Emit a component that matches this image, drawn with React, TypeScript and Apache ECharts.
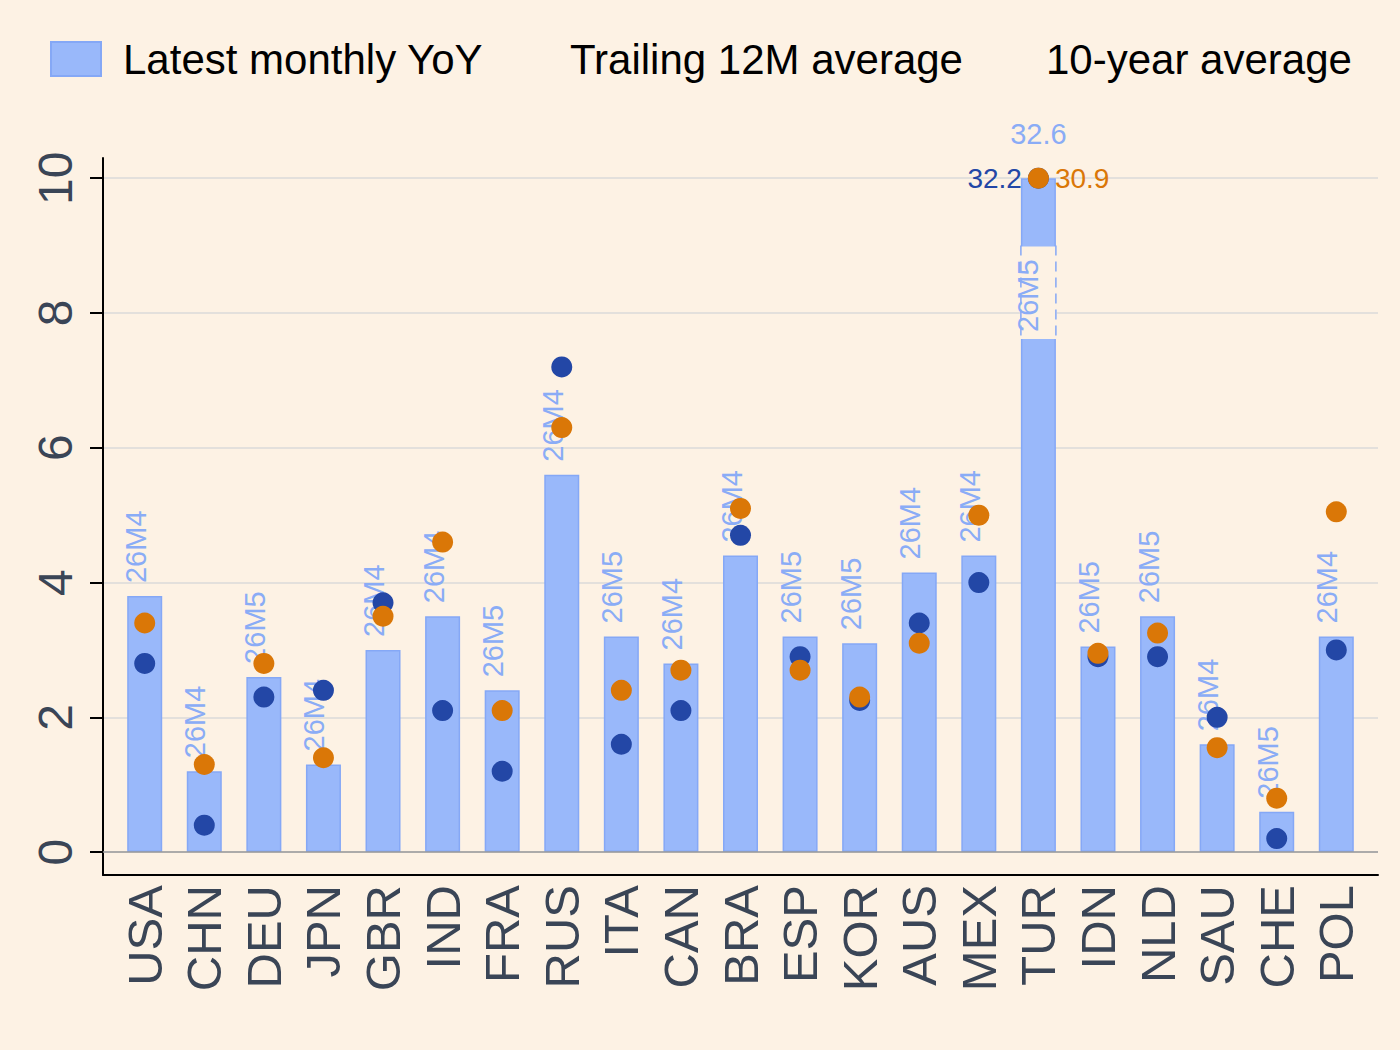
import React, { useEffect, useRef } from "react";
import * as echarts from "echarts";

const countries = ["USA", "CHN", "DEU", "JPN", "GBR", "IND", "FRA", "RUS", "ITA", "CAN", "BRA", "ESP", "KOR", "AUS", "MEX", "TUR", "IDN", "NLD", "SAU", "CHE", "POL"];
const latestMonth = ["26M4", "26M4", "26M5", "26M4", "26M4", "26M4", "26M5", "26M4", "26M5", "26M4", "26M4", "26M5", "26M5", "26M4", "26M4", "26M5", "26M5", "26M5", "26M4", "26M5", "26M4"];
const latestYoY = [3.8, 1.2, 2.6, 1.3, 3.0, 3.5, 2.4, 5.6, 3.2, 2.8, 4.4, 3.2, 3.1, 4.15, 4.4, 32.6, 3.05, 3.5, 1.6, 0.6, 3.2];
const trailing12M = [2.8, 0.4, 2.3, 2.4, 3.7, 2.1, 1.2, 7.2, 1.6, 2.1, 4.7, 2.9, 2.25, 3.4, 4.0, 32.2, 2.9, 2.9, 2.0, 0.2, 3.0];
const tenYearAvg = [3.4, 1.3, 2.8, 1.4, 3.5, 4.6, 2.1, 6.3, 2.4, 2.7, 5.1, 2.7, 2.3, 3.1, 5.0, 30.9, 2.95, 3.25, 1.55, 0.8, 5.05];
const yTicks = [0, 2, 4, 6, 8, 10];
const axisCap = 10;
const breakLow = 7.6;
const breakHigh = 9.0;

const BG = "#fdf2e4";
const BAR_FILL = "#99b8fa";
const BAR_BORDER = "#85a8f6";
const MONTH_COLOR = "#8aacf6";
const NAVY = "#2347a6";
const ORANGE = "#da7707";
const AXIS_TEXT = "#3a4556";
const FONT = "'Liberation Sans', Arial, sans-serif";
const BAR_WIDTH = 35;

export default function App() {
  const ref = useRef<HTMLDivElement>(null);
  useEffect(() => {
    if (!ref.current) return;
    document.body.style.margin = "0";
    document.body.style.background = BG;
    const chart = echarts.init(ref.current, null, { renderer: "svg" });

    const barData = latestYoY.map((v, i) =>
      v > axisCap
        ? {
            value: [i, axisCap],
            label: {
              show: true,
              formatter: String(v),
              position: "top",
              rotate: 0,
              distance: 30,
              align: "center",
              verticalAlign: "bottom",
              offset: [0, 0],
            },
          }
        : { value: [i, v] }
    );

    const breakData = latestYoY
      .map((v, i) => (v > axisCap ? [i, breakLow, breakHigh] : null))
      .filter((d) => d !== null);

    const dotData = (arr: number[], color: string, pos: string) =>
      arr.map((v, i) =>
        v > axisCap
          ? {
              value: [i, axisCap],
              label: {
                show: true,
                formatter: String(v),
                position: pos,
                distance: 6,
                color,
                fontSize: 28,
                fontFamily: FONT,
              },
            }
          : { value: [i, v] }
      );

    const legendBase = {
      top: 38,
      padding: 0,
      itemWidth: 50,
      itemHeight: 34,
      selectedMode: false,
      textStyle: { fontSize: 42, color: "#000", fontFamily: FONT, padding: [0, 0, 0, 17] },
    };

    chart.setOption({
      animation: false,
      backgroundColor: BG,
      textStyle: { fontFamily: FONT },
      legend: [
        { ...legendBase, left: 50, data: [{ name: "Latest monthly YoY", icon: "rect" }] },
        { ...legendBase, left: 498, data: [{ name: "Trailing 12M average", icon: "none" }] },
        { ...legendBase, left: 974, data: [{ name: "10-year average", icon: "none" }] },
      ],
      grid: { left: 103, right: 22, top: 158, bottom: 175, containLabel: false },
      xAxis: {
        type: "value",
        min: -0.7,
        max: 20.7,
        axisLine: { show: true, onZero: false, lineStyle: { color: "#000", width: 2 } },
        axisTick: { show: false },
        splitLine: { show: false },
        axisLabel: {
          customValues: countries.map((_, i) => i),
          formatter: (v: number) => countries[Math.round(v)] ?? "",
          rotate: 90,
          margin: 10,
          fontSize: 49,
          color: AXIS_TEXT,
          fontFamily: FONT,
        },
      },
      yAxis: {
        type: "value",
        min: -0.34,
        max: 10.3,
        axisLine: { show: true, onZero: false, lineStyle: { color: "#000", width: 2 } },
        axisTick: { show: true, length: 13, customValues: yTicks, lineStyle: { color: "#000", width: 2 } },
        splitLine: { show: true, lineStyle: { color: "#dadada", width: 1.5 } },
        axisLabel: {
          customValues: yTicks,
          rotate: 90,
          margin: 24,
          fontSize: 48,
          color: AXIS_TEXT,
          fontFamily: FONT,
        },
      },
      series: [
        {
          name: "Latest monthly YoY",
          type: "bar",
          barWidth: BAR_WIDTH,
          z: 2,
          data: barData,
          itemStyle: { color: BAR_FILL, borderColor: BAR_BORDER, borderWidth: 1.5 },
          label: {
            show: true,
            position: "top",
            rotate: 90,
            align: "left",
            verticalAlign: "middle",
            distance: 13,
            offset: [0, -9],
            formatter: (p: any) => latestMonth[p.dataIndex],
            color: MONTH_COLOR,
            fontSize: 29,
            fontFamily: FONT,
          },
          markLine: {
            silent: true,
            symbol: "none",
            label: { show: false },
            lineStyle: { color: "#9a9a9a", width: 1.5, type: "solid" },
            data: [{ yAxis: 0 }],
          },
        },
        {
          name: "break",
          type: "custom",
          z: 3,
          data: breakData,
          renderItem: (params: any, api: any) => {
            const i = api.value(0);
            const lo = api.value(1);
            const hi = api.value(2);
            const pHi = api.coord([i, hi]);
            const pLo = api.coord([i, lo]);
            const w = BAR_WIDTH;
            const xl = pHi[0] - w / 2;
            const xr = pHi[0] + w / 2;
            return {
              type: "group",
              children: [
                {
                  type: "rect",
                  shape: { x: xl - 1, y: pHi[1] + 1, width: w + 2, height: pLo[1] - pHi[1] - 2 },
                  style: { fill: BG },
                },
                {
                  type: "line",
                  shape: { x1: xl, y1: pHi[1], x2: xl, y2: pLo[1] },
                  style: { stroke: BAR_BORDER, lineWidth: 1.5, lineDash: [10, 6] },
                },
                {
                  type: "line",
                  shape: { x1: xr, y1: pHi[1], x2: xr, y2: pLo[1] },
                  style: { stroke: BAR_BORDER, lineWidth: 1.5, lineDash: [10, 6] },
                },
                {
                  type: "text",
                  x: pHi[0] - 10,
                  y: pLo[1] - 8,
                  rotation: Math.PI / 2,
                  style: {
                    text: latestMonth[i],
                    fill: MONTH_COLOR,
                    fontSize: 29,
                    fontFamily: FONT,
                    align: "left",
                    verticalAlign: "middle",
                  },
                },
              ],
            };
          },
        },
        {
          name: "Trailing 12M average",
          type: "scatter",
          z: 4,
          symbolSize: 21,
          itemStyle: { color: NAVY, opacity: 1 },
          data: dotData(trailing12M, NAVY, "left"),
        },
        {
          name: "10-year average",
          type: "scatter",
          z: 5,
          symbolSize: 21,
          itemStyle: { color: ORANGE, opacity: 1 },
          data: dotData(tenYearAvg, ORANGE, "right"),
        },
      ],
    });
    return () => chart.dispose();
  }, []);

  return <div ref={ref} style={{ position: "fixed", left: 0, top: 0, width: 1400, height: 1050 }} />;
}
